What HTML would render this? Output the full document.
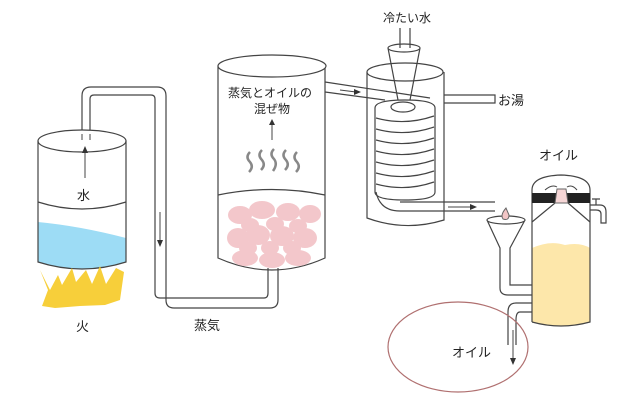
<!DOCTYPE html>
<html><head><meta charset="utf-8"><style>
html,body{margin:0;padding:0;background:#fff;}
svg{display:block;font-family:"Liberation Sans","Noto Sans CJK JP",sans-serif;}
</style></head><body>
<svg width="640" height="408" viewBox="0 0 640 408" xmlns="http://www.w3.org/2000/svg">
<g fill="none" stroke="#444" stroke-width="1.2">
<path d="M82,140 V96 Q82,87 91,87 H157 Q166,87 166,96 V300 Q166,308 174,308 H270 Q278,308 278,300 V268" fill="none"/>
<path d="M90,140 V99 Q90,95 94,95 H151 Q155,95 155,99 V293 Q155,298 160,298 H264 Q268,298 268,293 V268"/>
</g>
<path d="M38,222 Q80,226 126,238 V262 Q82,276 38,262 Z" fill="#9ddcf5"/>
<g fill="none" stroke="#444" stroke-width="1.2">
<ellipse cx="82" cy="141" rx="44" ry="11" fill="#fff"/>
<path d="M38,141 V262 Q82,276 126,262 V141"/>
<path d="M38,202 Q82,216 126,202"/>
</g>
<rect x="82" y="136" width="8" height="6" fill="#fff"/>
<path d="M82,140 V134 M90,140 V134" stroke="#444"/>
<line x1="85" y1="178" x2="85" y2="152" stroke="#444"/><polygon points="82,153 88,153 85,146" fill="#333"/>
<text x="77" y="200" font-size="13" fill="#222">水</text>
<path d="M40,270 L50,290 L58,275 L62,285 L72,268 L76,282 L86,270 L92,284 L100,266 L106,284 L116,268 L124,272 L120,300 L105,305 L80,306 L55,308 L42,306 L48,290 Z" fill="#f7cf3a"/>
<text x="76" y="331" font-size="13" fill="#222">火</text>
<line x1="160" y1="212" x2="160" y2="242" stroke="#444"/><polygon points="157,240 163,240 160,247" fill="#333"/>
<text x="194" y="330" font-size="13" fill="#222">蒸気</text>
<g fill="none" stroke="#444" stroke-width="1.2">
<path d="M218,66 V258 Q272,282 325,258 V66"/>
<ellipse cx="272" cy="66" rx="54" ry="11" fill="#fff"/>
<path d="M218,195 Q272,184 325,195"/>
</g>
<g fill="#f2c2c6" opacity="0.9">
<ellipse cx="240" cy="215" rx="12" ry="9"/><ellipse cx="262" cy="210" rx="13" ry="9"/><ellipse cx="288" cy="212" rx="12" ry="9"/><ellipse cx="310" cy="214" rx="11" ry="9"/>
<ellipse cx="238" cy="238" rx="11" ry="10"/><ellipse cx="258" cy="235" rx="12" ry="10"/><ellipse cx="282" cy="236" rx="12" ry="10"/><ellipse cx="305" cy="238" rx="12" ry="10"/>
<ellipse cx="245" cy="258" rx="13" ry="8"/><ellipse cx="272" cy="260" rx="13" ry="8"/><ellipse cx="298" cy="258" rx="13" ry="8"/>
<ellipse cx="250" cy="225" rx="9" ry="7"/><ellipse cx="275" cy="224" rx="9" ry="7"/><ellipse cx="298" cy="226" rx="9" ry="7"/><ellipse cx="270" cy="248" rx="9" ry="7"/><ellipse cx="292" cy="248" rx="9" ry="7"/><ellipse cx="248" cy="248" rx="9" ry="7"/>
</g>
<text x="228" y="97" font-size="12" fill="#222">蒸気とオイルの</text>
<text x="254" y="113" font-size="12" fill="#222">混ぜ物</text>
<line x1="272" y1="140" x2="272" y2="124" stroke="#444"/><polygon points="269,125 275,125 272,119" fill="#333"/>
<g fill="none" stroke="#888" stroke-width="2.5">
<path d="M250,152 q-5,5 0,10 q4,5 -1,10"/><path d="M262,150 q-5,5 0,10 q4,5 -1,10"/><path d="M274,149 q-5,5 0,10 q4,5 -1,12"/><path d="M286,150 q-5,5 0,10 q4,5 -1,10"/><path d="M297,152 q-5,5 0,10 q4,5 -1,10"/>
</g>
<g fill="none" stroke="#444" stroke-width="1.2">
<path d="M367,72 V218 Q405,232 444,220 V72"/>
<ellipse cx="405" cy="72" rx="38" ry="9" fill="#fff"/>
<path d="M444,95 H495 V103 H444"/>
<path d="M325,82 L430,98 M325,92 L385,100"/>
<path d="M375,108 Q375,100 405,100 Q435,100 435,108 V192 Q435,200 405,200 Q375,200 375,192 Z" fill="#fff"/>
<path d="M376,118 Q405,126 434,116 M376,129 Q405,137 434,127 M376,140 Q405,148 434,138 M376,151 Q405,159 434,149 M376,162 Q405,170 434,160 M376,173 Q405,181 434,171 M376,184 Q405,192 434,182"/>
<ellipse cx="403" cy="107" rx="12" ry="5"/>
<path d="M400,202 H495 M376,192 Q380,211 400,211 H495"/>
<path d="M388,48 L398,100 M420,48 L410,100"/>
<ellipse cx="404" cy="48" rx="16" ry="4" fill="#fff"/>
<path d="M400,28 V48 M410,28 V48"/>
</g>
<line x1="340" y1="90" x2="356" y2="92" stroke="#444"/><polygon points="354,89 361,92 354,95" fill="#333"/>
<line x1="448" y1="207" x2="472" y2="207" stroke="#444"/><polygon points="470,204 477,207 470,210" fill="#333"/>
<text x="383" y="22" font-size="12" fill="#222">冷たい水</text>
<text x="498" y="105" font-size="13" fill="#222">お湯</text>
<g fill="none" stroke="#444" stroke-width="1.2">
<path d="M487,220 L500,248 V288 Q500,295 508,295 H532 M525,220 L510,248 V285 H532"/>
<ellipse cx="506" cy="220" rx="19" ry="4" fill="#fff"/>
</g>
<path d="M506,208 Q500,215 503,219 Q509,221 509,215 Z" fill="#f3c6c6" stroke="#666"/>
<path d="M532,248 Q550,240 565,245 Q580,242 590,248 V322 Q561,330 532,322 Z" fill="#fde7aa"/>
<g fill="none" stroke="#444" stroke-width="1.2">
<path d="M532,322 V190 Q532,176 561,175 Q590,176 590,190 V322 Q561,330 532,322"/>
<path d="M555,203 L532,222 M568,203 L590,222"/>
<path d="M590,205 H600 Q606,205 606,212 V223 H601 V214 Q601,210 596,210 H590"/>
<path d="M596,205 V199 M592,199 H600"/>
<path d="M532,303 H516 Q508,303 508,312 V345 M532,312 H520 Q516,312 516,320 V345"/>
</g>
<rect x="532" y="193" width="58" height="10" fill="#222"/>
<path d="M555,203 L557,189 H566 L568,203 Z" fill="#f6d6d6" stroke="#666"/>
<path d="M545,190 Q552,184 557,187 M567,187 Q572,184 577,190" fill="none" stroke="#444"/>
<line x1="513" y1="330" x2="513" y2="360" stroke="#444"/><polygon points="510,358 516,358 513,365" fill="#333"/>
<text x="539" y="160" font-size="13" fill="#222">オイル</text>
<ellipse cx="458" cy="347" rx="70" ry="45" fill="none" stroke="#b07070" stroke-width="1.2"/>
<text x="452" y="357" font-size="13" fill="#222">オイル</text>
</svg>
</body></html>
